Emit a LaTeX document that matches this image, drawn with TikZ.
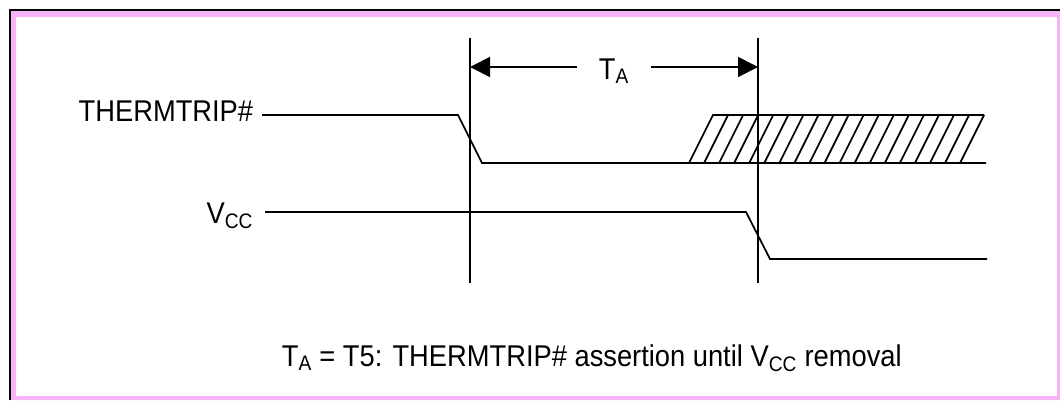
\documentclass[tikz,border=0pt]{standalone}
\usepackage{fontspec}
\usepackage{graphicx}
\setmainfont{Liberation Sans}
\usetikzlibrary{arrows.meta}
\definecolor{framepink}{RGB}{246,180,246}
\newcommand{\narrow}[1]{\scalebox{0.91}[1]{#1}}

\begin{document}
\begin{tikzpicture}[x=0.75pt,y=-0.75pt,line width=1.3pt,
    font=\fontsize{22.5}{27}\selectfont,
    tip/.style={-{Triangle[length=15pt,width=15pt]}}]
\useasboundingbox (0,0) rectangle (1060,400);
% frame
\fill[framepink,even odd rule] (11,11) rectangle (1060,400) (16,17) rectangle (1057,396);
\draw[line width=1.6pt] (10,400) -- (10,10) -- (1060,10);
% labels
\node[anchor=base east,inner sep=0pt] (therm) at (254,121) {\narrow{THERMTRIP\#}};
\node[anchor=base east,inner sep=0pt] (vcc) at (254,223) {\narrow{V\textsubscript{CC}}};
\node[anchor=base,inner sep=0pt,minimum width=54pt] (ta) at (614,79) {\narrow{T\textsubscript{A}}};
\node[anchor=base west,inner sep=0pt] (note) at (281,366) {\narrow{T\textsubscript{A} = T5: THERMTRIP\# assertion until V\textsubscript{CC} removal}};
% timing marks
\coordinate (m1) at (470,38);
\coordinate (m2) at (758,38);
\draw (m1) -- (470,283);
\draw (m2) -- (758,283);
\draw[tip] (ta.west |- 0,67) -- (m1 |- 0,67);
\draw[tip] (ta.east |- 0,67) -- (m2 |- 0,67);
% THERMTRIP#
\coordinate (thermstart) at (262,115);
\draw (thermstart) -- (458,115) -- (482,163) -- (986,163);
\draw (689,163) -- (713,115) -- (984,115);
\foreach \k in {1,...,18}
   \draw (689+15.06*\k,163) -- ++(24,-48);
% VCC
\coordinate (vccstart) at (265,212);
\draw (vccstart) -- (746,212) -- (770,259) -- (987,259);
\end{tikzpicture}
\end{document}
